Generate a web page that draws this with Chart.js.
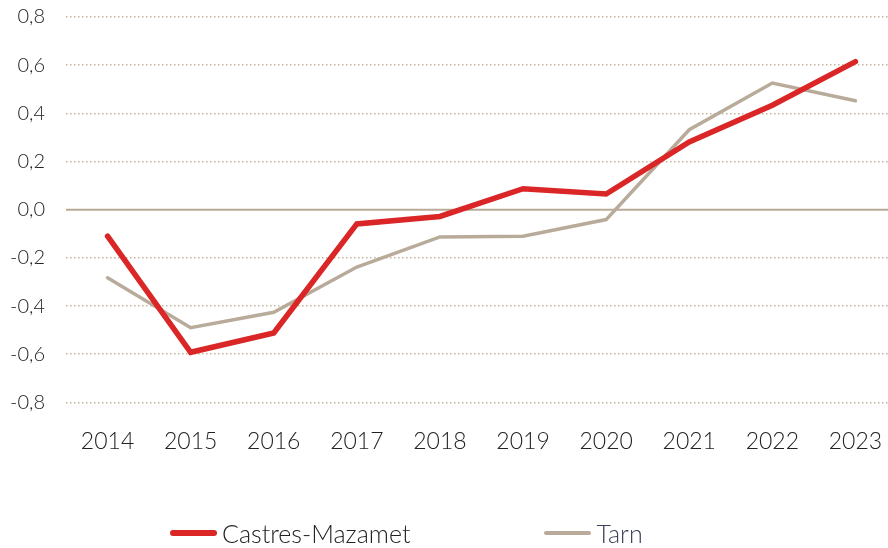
<!DOCTYPE html>
<html>
<head>
<meta charset="utf-8">
<script src="https://cdn.jsdelivr.net/npm/chart.js@4/dist/chart.umd.min.js"></script>
<style>
  html, body { margin: 0; padding: 0; background: #fff; }
  .wrap { position: relative; width: 888px; height: 548px; }
  canvas { display: block; }
  #legend { position: absolute; left: 170px; top: 518px; height: 30px; display: flex; align-items: center; font-family: Lato, "Noto Sans", sans-serif; font-weight: 300; font-size: 25px; color: #222; white-space: nowrap; }
  #legend span.item { display: flex; align-items: center; }
  #legend span.swatch { display: inline-block; width: 47px; border-radius: 3px; margin-right: 5px; }
</style>
</head>
<body>
<div class="wrap">
  <canvas id="chart" width="888" height="548"></canvas>
  <div id="legend"></div>
</div>
<script>
var years = ['2014', '2015', '2016', '2017', '2018', '2019', '2020', '2021', '2022', '2023']
var castres = [-0.11, -0.592, -0.512, -0.059, -0.028, 0.087, 0.065, 0.281, 0.434, 0.615]
var tarn = [-0.283, -0.49, -0.426, -0.238, -0.113, -0.11, -0.041, 0.332, 0.526, 0.452]
var yTicks = [-0.8, -0.6, -0.4, -0.2, 0, 0.2, 0.4, 0.6, 0.8]

const font = "Lato, 'Noto Sans', sans-serif"
const plotTop = 17

// solid line at zero, the other grid lines are dotted
const zeroLine = {
    id: 'zeroLine',
    afterLayout(chart) {
        // plot runs to the canvas edge, category band a little past it
        const area = chart.chartArea
        area.right = chart.width
        area.width = area.right - area.left
        const x = chart.scales.x
        x.right = chart.width + 9
        x.width = x.right - x.left
        x.configure()
        // pull the top of the plot up
        const y = chart.scales.y
        const shift = y.top - plotTop
        y.top -= shift
        y.height += shift
        y.configure()
        area.top -= shift
        area.height += shift
    },
    beforeDatasetsDraw(chart) {
        const y = chart.scales.y.getPixelForValue(0)
        const ctx = chart.ctx
        ctx.save()
        ctx.strokeStyle = '#b9aa96'
        ctx.lineWidth = 2
        ctx.beginPath()
        ctx.moveTo(chart.chartArea.left, y)
        ctx.lineTo(chart.width, y)
        ctx.stroke()
        ctx.restore()
    }
}

const chart = new Chart(document.getElementById('chart'), {
    type: 'line',
    data: {
        labels: years,
        datasets: [
            {
                label: 'Castres-Mazamet',
                data: castres,
                borderColor: '#da2627',
                backgroundColor: '#da2627',
                borderWidth: 5.5,
                borderCapStyle: 'round',
                pointRadius: 0,
                tension: 0
            },
            {
                label: 'Tarn',
                data: tarn,
                borderColor: '#b9ab9a',
                backgroundColor: '#b9ab9a',
                borderWidth: 3.5,
                borderCapStyle: 'round',
                pointRadius: 0,
                tension: 0
            }
        ]
    },
    options: {
        responsive: false,
        animation: false,
        layout: { padding: { top: 2, bottom: 68, left: 0, right: 0 } },
        plugins: {
            legend: { display: false },
            tooltip: { enabled: false }
        },
        scales: {
            x: {
                offset: true,
                grid: { display: false, drawTicks: false },
                border: { display: false },
                ticks: { color: '#222', padding: 25, maxRotation: 0, font: { family: font, size: 23, weight: 300 } }
            },
            y: {
                min: -0.8,
                max: 0.8,
                afterBuildTicks: (scale) => { scale.ticks = yTicks.map(v => ({ value: v })) },
                afterFit: (scale) => { scale.width = 66 },
                grid: {
                    drawTicks: false,
                    color: (c) => c.tick && c.tick.value === 0 ? 'rgba(0,0,0,0)' : '#c5b49c',
                    lineWidth: 1.5
                },
                border: { display: false, dash: [1.5, 2.5] },
                ticks: {
                    color: '#222',
                    padding: 21,
                    font: { family: font, size: 20, weight: 300 },
                    callback: (v) => v.toFixed(1).replace('.', ',')
                }
            }
        }
    },
    plugins: [zeroLine]
})

let html = ''
chart.data.datasets.forEach((ds, i) => {
    html += '<span class="item" style="margin-left:' + (i ? 134 : 0) + 'px">' +
        '<span class="swatch" style="height:' + ds.borderWidth + 'px;background:' + ds.borderColor + '"></span>' +
        '<span' + (i ? ' style="color:#3a3f58"' : '') + '>' + ds.label + '</span></span>'
})
document.getElementById('legend').innerHTML = html
</script>
</body>
</html>
